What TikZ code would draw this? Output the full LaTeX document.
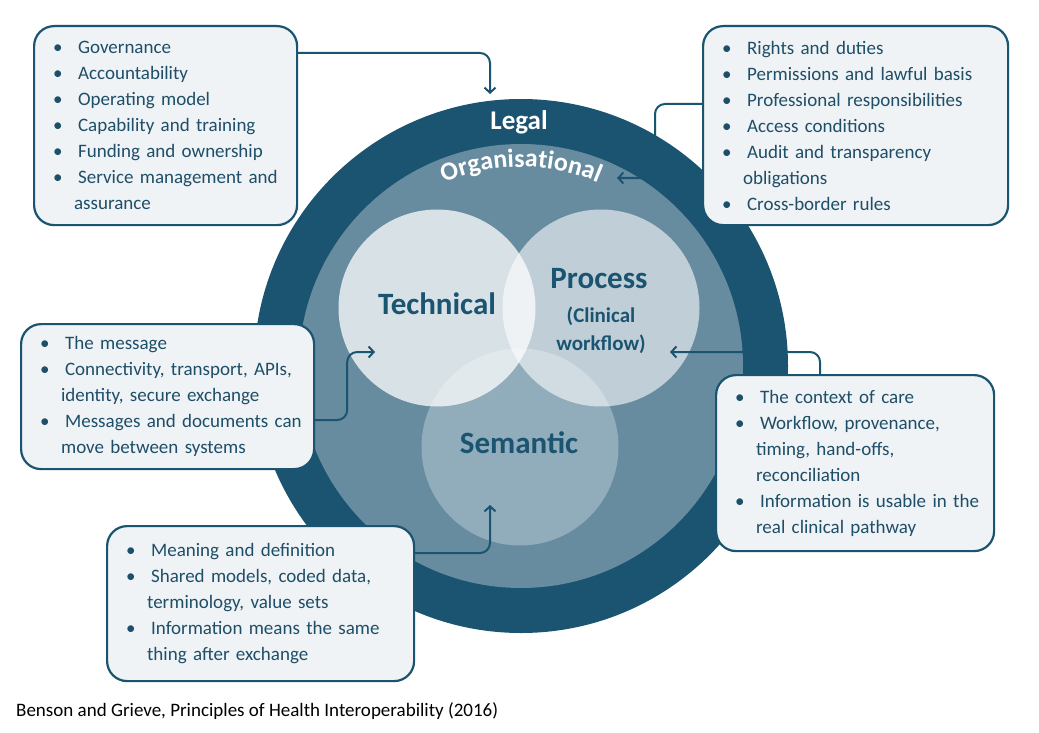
\documentclass[tikz,border=0pt]{standalone}
\usepackage{fontspec}
\setmainfont{Carlito}
\usetikzlibrary{arrows.meta,decorations.text}
\definecolor{dark}{HTML}{1B5470}
\definecolor{mid}{HTML}{678CA0}
\definecolor{boxfill}{HTML}{EFF3F5}
\definecolor{txt}{HTML}{1E4E68}
\newcommand{\bitem}[1]{\hspace*{19pt}\makebox[25pt][l]{\textbullet}#1}
\newcommand{\citem}[1]{\hspace*{40pt}#1}
\begin{document}
\begin{tikzpicture}[x=1pt,y=1pt,
  infobox/.style={draw=dark, line width=2.2pt, fill=boxfill, rounded corners=20pt,
    inner xsep=0pt, inner ysep=0pt, align=left, anchor=north west,
    font=\fontsize{19}{26}\selectfont, text=txt},
  conn/.style={draw=dark, line width=2pt, rounded corners=10pt,
    -{Straight Barb[length=5pt,width=11pt]}},
  disc/.style={circle, inner sep=0pt, draw=none},
  venn/.style={disc, fill=white, minimum size=197pt},
  bigtext/.style={font=\fontsize{31}{31}\selectfont\bfseries, text=dark},
  subtext/.style={font=\fontsize{21}{28}\selectfont\bfseries, text=dark, align=center}]
\useasboundingbox (0,0) rectangle (1039,-733);
\fill[white] (0,0) rectangle (1039,-733);
% rings
\node[disc, fill=dark, minimum size=534pt] (legal) at (521,-366) {};
\node[disc, fill=mid, minimum size=444pt] (org) at (521,-366) {};
% venn circles
\node[venn, fill opacity=0.74] (tech) at (437,-308) {};
\node[venn, fill opacity=0.58] (proc) at (601,-308) {};
\node[venn, fill opacity=0.28] (sem) at (520,-447) {};
% labels
\node[font=\fontsize{27}{27}\selectfont\bfseries, text=white, anchor=base] (legallbl) at (519,-130) {Legal};
\path[decorate, decoration={text along path, text align=center,
  text={|\fontsize{26}{26}\selectfont\bfseries\color{white}|Organisational}}]
  (521,-366) ++(150:199) arc[start angle=150, end angle=30, radius=199];
\node[bigtext] (techlbl) at (437,-304) {Technical};
\node[bigtext] (proclbl) at (599,-279) {Process};
\node[subtext] (proclbl2) at (601,-330) {(Clinical\\workflow)};
\node[bigtext] (semlbl) at (519,-443) {Semantic};
% boxes
\node[infobox, text width=263pt, minimum width=263pt, minimum height=199pt] (gov) at (33,-25) {%
\bitem{Governance}\\
\bitem{Accountability}\\
\bitem{Operating model}\\
\bitem{Capability and training}\\
\bitem{Funding and ownership}\\
\bitem{Service management and}\\
\citem{assurance}};
\node[infobox, text width=305pt, minimum width=305pt, minimum height=199pt] (law) at (702,-25) {%
\bitem{Rights and duties}\\
\bitem{Permissions and lawful basis}\\
\bitem{Professional responsibilities}\\
\bitem{Access conditions}\\
\bitem{Audit and transparency}\\
\citem{obligations}\\
\bitem{Cross-border rules}};
\node[infobox, text width=293pt, minimum width=293pt, minimum height=145pt] (tec) at (20,-323) {%
\bitem{The message}\\
\bitem{Connectivity, transport, APIs,}\\
\citem{identity, secure exchange}\\
\bitem{Messages and documents can}\\
\citem{move between systems}};
\node[infobox, text width=278pt, minimum width=278pt, minimum height=176pt] (pro) at (715,-374) {%
\bitem{The context of care}\\
\bitem{Workflow, provenance,}\\
\citem{timing, hand-offs,}\\
\citem{reconciliation}\\
\bitem{Information is usable in the}\\
\citem{real clinical pathway}};
\node[infobox, text width=307pt, minimum width=307pt, minimum height=155pt] (sm) at (106,-525) {%
\bitem{Meaning and definition}\\
\bitem{Shared models, coded data,}\\
\citem{terminology, value sets}\\
\bitem{Information means the same}\\
\citem{thing after exchange}};
% connector targets
\coordinate (legalin) at (490,-94);
\coordinate (orgin) at (617,-178);
\coordinate (techin) at (375,-352);
\coordinate (procin) at (670,-352);
\coordinate (semin) at (490,-505);
% connectors
\draw[conn] ([yshift=-28pt]gov.north east) -| (legalin);
\draw[conn] ([yshift=-79pt]law.north west) -- ++(-47,0) |- (orgin);
\draw[conn] ([yshift=-97pt]tec.north east) -- ++(32,0) |- (techin);
\draw[conn] ([xshift=105pt]pro.north west) |- (procin);
\draw[conn] ([yshift=-28pt]sm.north east) -| (semin);
% caption
\node[anchor=base west, inner sep=0pt, font=\fontsize{19}{22}\selectfont, text=black] (cap) at (16,-716) {Benson and Grieve, Principles of Health Interoperability (2016)};
\end{tikzpicture}
\end{document}
